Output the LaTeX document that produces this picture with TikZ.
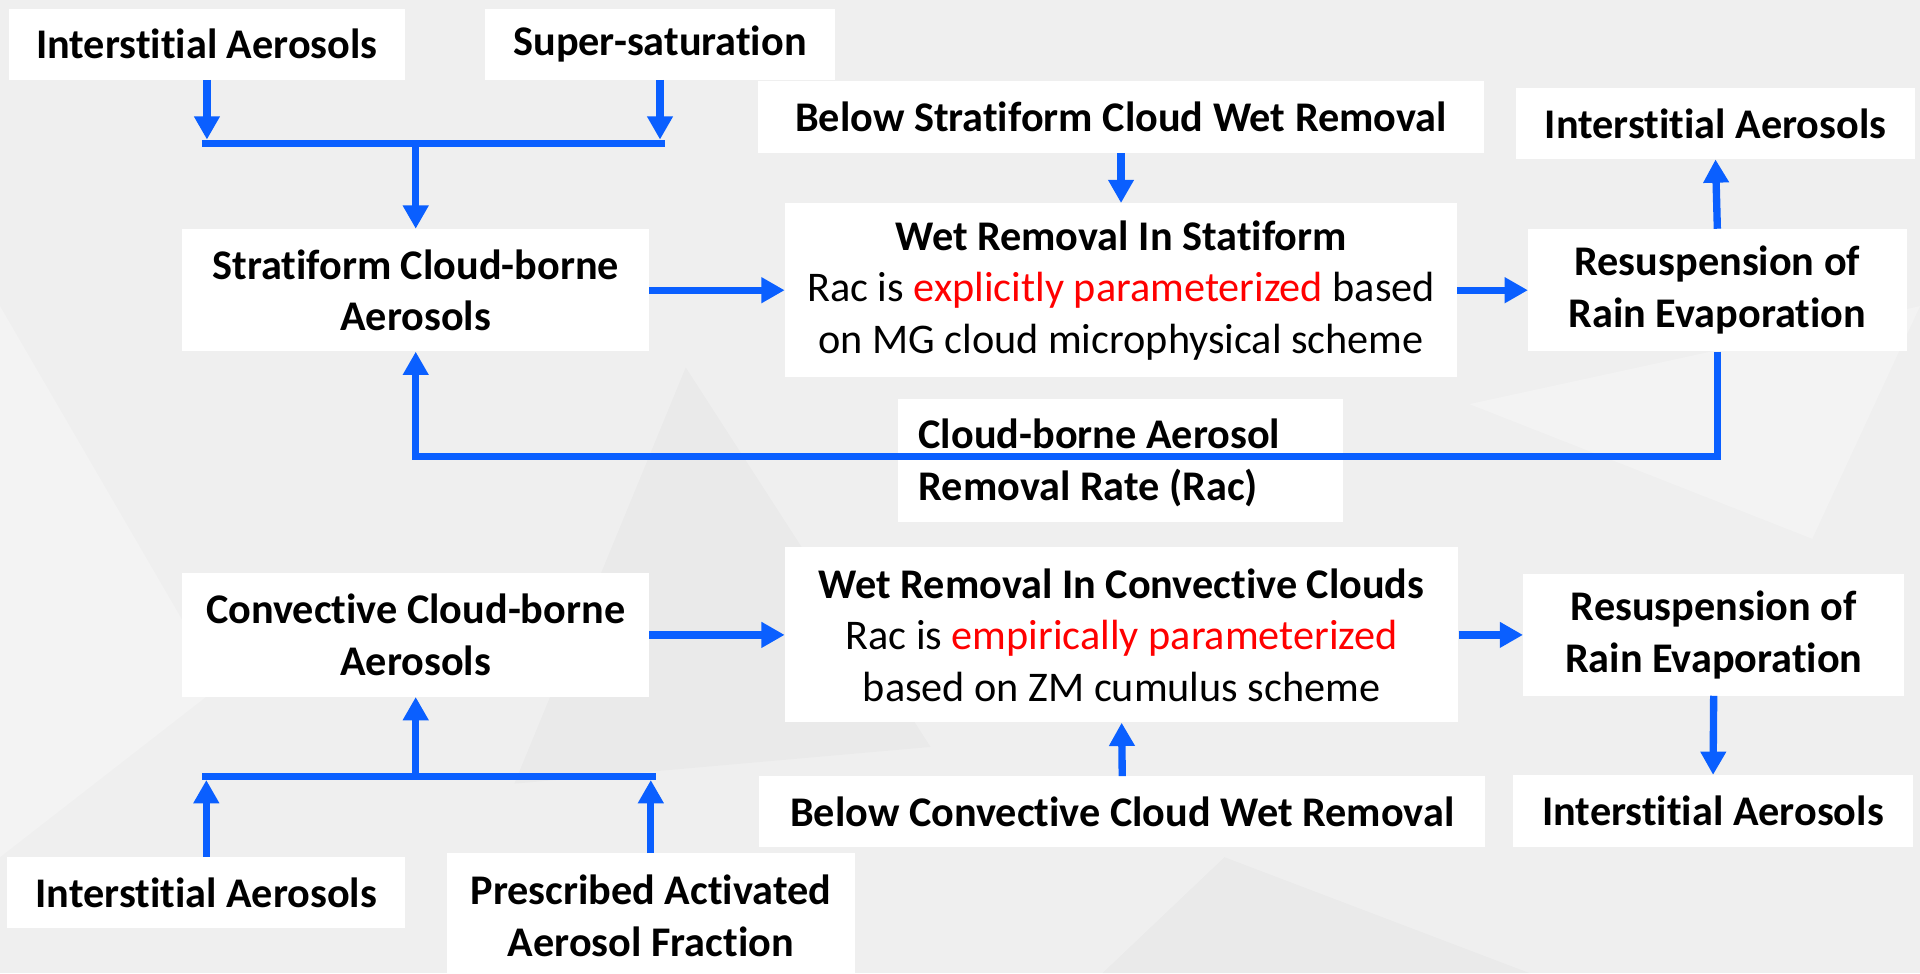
\documentclass[tikz,border=0pt]{standalone}
\usepackage{fontspec}
\setmainfont[Ligatures={NoCommon,NoRequired,NoContextual}]{Carlito}
\usetikzlibrary{arrows.meta}
\definecolor{bgc}{RGB}{239,239,239}
\definecolor{arrowblue}{RGB}{10,95,255}
\definecolor{redtxt}{RGB}{255,0,0}
\begin{document}
\begin{tikzpicture}[x=1pt,y=-1pt,
  box/.style={fill=white, draw=none, inner sep=0pt, align=center,
    font=\fontsize{34.5}{42}\selectfont\bfseries},
  plainbox/.style={box, font=\fontsize{34.5}{42}\selectfont},
  conn/.style={draw=arrowblue, line width=6pt},
  arr/.style={conn, -{Triangle[length=19pt,width=20pt]}},
  ]
\useasboundingbox (0,0) rectangle (1568,795);
\fill[bgc] (0,0) rectangle (1568,795);
% faint background facets
\fill[white, opacity=0.25] (0,250) -- (180,560) -- (0,700) -- cycle;
\fill[black, opacity=0.02] (560,300) -- (760,610) -- (420,640) -- cycle;
\fill[white, opacity=0.25] (1200,330) -- (1568,250) -- (1480,440) -- cycle;
\fill[black, opacity=0.02] (1000,700) -- (1250,795) -- (900,795) -- cycle;

% nodes
\node[box, minimum width=324pt, minimum height=58pt] (ia1) at (169,36) {Interstitial Aerosols};
\node[box, minimum width=286pt, minimum height=58pt] (ss) at (539,36) {Super-saturation};
\node[box, minimum width=593pt, minimum height=59pt] (bsc) at (915.5,95.5) {Below Stratiform Cloud Wet Removal};
\node[box, minimum width=326pt, minimum height=58pt] (ia2) at (1401,101) {Interstitial Aerosols};
\node[box, minimum width=381pt, minimum height=100pt] (sca) at (339.5,237) {Stratiform Cloud-borne\\Aerosols};
\node[plainbox, minimum width=549pt, minimum height=142pt] (wrs) at (915.5,237)
  {\textbf{Wet Removal In Statiform}\\Rac is \textcolor{redtxt}{explicitly parameterized} based\\on MG cloud microphysical scheme};
\node[box, minimum width=309pt, minimum height=100pt] (rre1) at (1402.5,237) {Resuspension of\\Rain Evaporation};
\node[box, minimum width=364pt, minimum height=100pt] (rac) at (915,376) {};
\node[box, align=left, fill=none, anchor=west] (ractxt) at (750,378)
  {Cloud-borne Aerosol\\Removal Rate (Rac)};

\node[box, minimum width=381pt, minimum height=101pt] (cca) at (339.5,518.5) {Convective Cloud-borne\\Aerosols};
\node[plainbox, minimum width=550pt, minimum height=143pt] (wrc) at (916,518.5)
  {\textbf{Wet Removal In Convective Clouds}\\Rac is \textcolor{redtxt}{empirically parameterized}\\based on ZM cumulus scheme};
\node[box, minimum width=311pt, minimum height=99pt] (rre2) at (1399.5,518.5) {Resuspension of\\Rain Evaporation};
\node[box, minimum width=593pt, minimum height=58pt] (bcc) at (916.5,663) {Below Convective Cloud Wet Removal};
\node[box, minimum width=326pt, minimum height=59pt] (ia3) at (1399,662.5) {Interstitial Aerosols};
\node[box, minimum width=325pt, minimum height=58pt] (ia4) at (168.5,729) {Interstitial Aerosols};
\node[box, minimum width=333pt, minimum height=102pt] (paaf) at (531.5,748) {Prescribed Activated\\Aerosol Fraction};

% coordinates
\coordinate (tl) at (165,117);
\coordinate (tr) at (543,117);
\coordinate (tm) at (339.5,117);
\coordinate (bl) at (165,634);
\coordinate (br) at (536,634);
\coordinate (bm) at (339.5,634);
\coordinate (fb) at (0,373);

% top merge
\draw[conn] (tl) -- (tr);
\draw[arr, shorten >=3pt] (ia1.south) -- (ia1.south |- tl);
\draw[arr, shorten >=3pt] (ss.south) -- (ss.south |- tr);
\draw[arr] (tm) -- (sca.north);

% stratiform row
\draw[arr] (sca.east) -- (wrs.west);
\draw[arr] (bsc.south) -- (wrs.north);
\draw[arr] (wrs.east) -- (rre1.west);
\draw[arr] (rre1.north) -- (ia2.south);
\draw[arr, line join=miter] (rre1.south) -- (rre1.south |- fb) -- (sca.south |- fb) -- (sca.south);

% convective row
\draw[arr] (cca.east) -- (wrc.west);
\draw[arr] (wrc.east) -- (rre2.west);
\draw[arr] (rre2.south) -- (ia3.north);
\draw[arr] (bcc.north) -- (wrc.south);

% bottom merge
\draw[conn] (bl) -- (br);
\draw[arr, shorten >=3pt] (ia4.north) -- (ia4.north |- bl);
\draw[arr, shorten >=3pt] (paaf.north) -- (paaf.north |- br);
\draw[arr] (bm) -- (cca.south);
\end{tikzpicture}
\end{document}
